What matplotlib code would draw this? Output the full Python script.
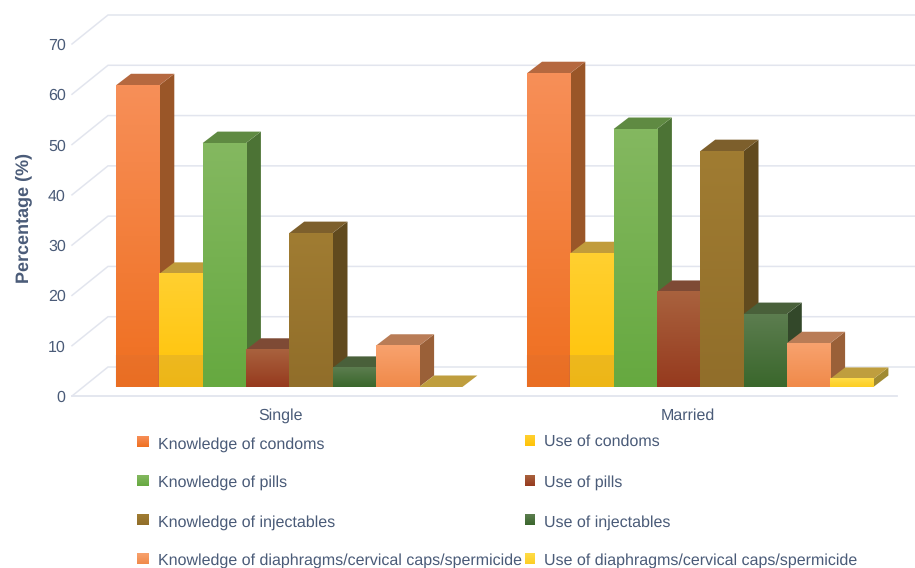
import numpy as np
import matplotlib
matplotlib.use("Agg")
import matplotlib.pyplot as plt
from matplotlib.colors import to_rgb
from matplotlib.patches import Polygon, Rectangle
from matplotlib.transforms import Affine2D

plt.rcParams['font.family'] = ['Liberation Sans', 'DejaVu Sans']
plt.rcParams['text.hinting'] = 'none'
plt.rcParams['text.hinting_factor'] = 1

categories = ["Single", "Married"]
series_names = ["Knowledge of condoms", "Use of condoms", "Knowledge of pills", "Use of pills",
                "Knowledge of injectables", "Use of injectables",
                "Knowledge of diaphragms/cervical caps/spermicide",
                "Use of diaphragms/cervical caps/spermicide"]
single_values = [60.0, 22.5, 48.5, 7.4, 30.6, 3.8, 8.2, 0.0]
married_values = [62.4, 26.6, 51.3, 18.9, 46.9, 14.5, 8.7, 1.6]
y_ticks = [0, 10, 20, 30, 40, 50, 60, 70]

# colours per series: light top of front, bottom of front, top face, side face
front_top = ['#f78f58', '#ffd030', '#84b860', '#a9623e', '#a07c32', '#5c7d4f', '#f8a26e', '#ffdc48']
front_bot = ['#ef6f20', '#ffc308', '#66a940', '#963a1e', '#916e2a', '#3a672c', '#f08a4a', '#fdce24']
top_face = ['#b5683f', '#c19c3b', '#5f8a42', '#7e4a35', '#7d5f2c', '#49603a', '#b97c56', '#bf9e3e']
side_face = ['#9a5628', '#a08830', '#4c7335', '#703a22', '#614a1e', '#33482a', '#9a6038', '#a08a32']
band_alpha = [0.04, 0.12, 0, 0, 0, 0, 0, 0]

grid_col = '#e2e5ee'
text_col = '#4a5b78'

W, H = 915, 568
fig = plt.figure(figsize=(W / 100, H / 100), dpi=100)
ax = fig.add_axes([72 / W, 1 - 396 / H, 825 / W, 352 / H])
ax.set_xlim(0, 2)
ax.set_ylim(0, 70)

px_x = 2 / 825
px_y = 70 / 352
wall_dx, wall_dy = 36 * px_x, 29 * px_y
bar_dx, bar_dy = 15 * px_x, 11.5 * px_y
base_y = 9 * px_y
bar_w = 43.3 * px_x


def gradient(x0, x1, y0, y1, c_top, c_bot, zo, transform=None):
    ramp = np.linspace(0, 1, 64)[:, None, None]
    img = np.array(to_rgb(c_top))[None, None, :] * (1 - ramp) + np.array(to_rgb(c_bot))[None, None, :] * ramp
    ax.imshow(img, extent=[x0, x1, y0, y1], origin='upper', aspect='auto', zorder=zo, clip_on=False,
              transform=transform if transform is not None else ax.transData, interpolation='bilinear')


# walls and floor
for t in y_ticks:
    ax.plot([0, wall_dx, 2.2], [t, t + wall_dy, t + wall_dy], color=grid_col, lw=1.1, clip_on=False, zorder=1,
            solid_joinstyle='miter')
ax.plot([0, 2], [0, 0], color=grid_col, lw=1.3, clip_on=False, zorder=1)

# bars, left to right so each front hides the side of the bar before it
zo = 2
for g, values in enumerate([single_values, married_values]):
    start = g + (44 if g == 0 else 42.5) * px_x
    for i, v in enumerate(values):
        x0 = start + i * bar_w
        x1 = x0 + bar_w
        top = base_y + v
        ax.add_patch(Polygon([(x1, base_y), (x1 + bar_dx, base_y + bar_dy), (x1 + bar_dx, top + bar_dy), (x1, top)],
                             closed=True, fc=side_face[i], ec='none', clip_on=False, zorder=zo))
        ax.add_patch(Polygon([(x0, top), (x1, top), (x1 + bar_dx, top + bar_dy), (x0 + bar_dx, top + bar_dy)],
                             closed=True, fc=top_face[i], ec='none', clip_on=False, zorder=zo + 1))
        if v > 0:
            gradient(x0, x1, base_y, top, front_top[i], front_bot[i], zo + 2)
            if v > 6.4 and band_alpha[i] > 0:
                ax.add_patch(Rectangle((x0 - px_x, base_y), bar_w + px_x, 6.4, fc='#6c5a80', alpha=band_alpha[i],
                                       ec='none', clip_on=False, zorder=zo + 3))
        zo += 4

ax.set_xlim(0, 2)
ax.set_ylim(0, 70)
ax.set_xticks([0.505, 1.494])
ax.set_xticklabels(categories, fontsize=11.2, color=text_col)
ax.set_yticks(y_ticks)
ax.set_yticklabels([str(t) for t in y_ticks], fontsize=11.7, color=text_col)
ax.tick_params(axis='both', length=0)
ax.tick_params(axis='y', pad=4.5)
ax.tick_params(axis='x', pad=9)
for s in ax.spines.values():
    s.set_visible(False)
ax.patch.set_visible(False)
ax.set_ylabel("Percentage (%)", fontsize=13.2, fontweight='bold', color=text_col)
ax.yaxis.set_label_coords(-40 / 825, 0.506)

# legend, rows are not evenly spaced in the original
pix = Affine2D().scale(1, -1).translate(0, H)
left_y = [445, 483, 523, 561]
right_y = [442, 483, 523, 561]
left_mark = [442, 481, 520, 559]
right_mark = [441, 481, 520, 559]
for i in range(8):
    row = i // 2
    if i % 2 == 0:
        mx0, mx1, my, tx, ty = 137, 149, left_mark[row], 158, left_y[row]
    else:
        mx0, mx1, my, tx, ty = 525, 535, right_mark[row], 544, right_y[row]
    gradient(mx0, mx1, my + 5.5, my - 5.5, front_top[i], front_bot[i], 100, transform=pix)
    fig.text(tx / W, 1 - ty / H, series_names[i], fontsize=11.2, color=text_col, va='center', ha='left')

ax.set_xlim(0, 2)
ax.set_ylim(0, 70)
fig.savefig("out.png", dpi=100)
